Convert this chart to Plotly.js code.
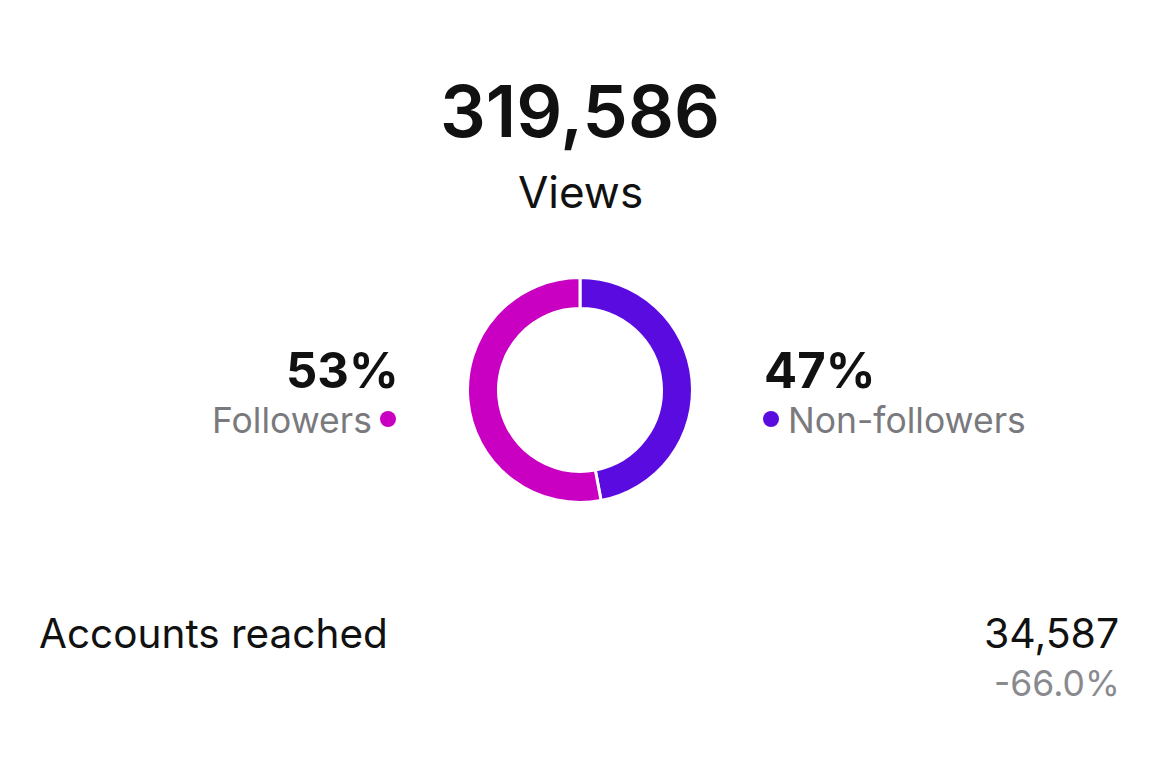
<!DOCTYPE html>
<html>
<head>
<meta charset="utf-8">
<script src="https://cdn.plot.ly/plotly-3.0.1.min.js"></script>
<style>html,body{margin:0;padding:0;background:#fff;}#chart{width:1159px;height:772px;}</style>
</head>
<body>
<div id="chart"></div>
<script>
// ---- data ----
const segmentLabels = ["Non-followers", "Followers"];
const segmentValues = [47, 53];
const segmentColors = ["#5a0be0", "#c900c2"];
const totalViews = "319,586";
const totalLabel = "Views";
const metricLabel = "Accounts reached";
const metricValue = "34,587";
const metricChange = "-66.0%";

const W = 1159, H = 772;
const px = x => x / W;
const py = y => 1 - y / H;
const FONT = "Inter, 'Noto Sans', Roboto, sans-serif";

const cx = 580, cy = 390, R = 112.5;

const trace = {
  type: "pie",
  labels: segmentLabels,
  values: segmentValues,
  sort: false,
  direction: "clockwise",
  rotation: 0,
  hole: 81.5 / 112.5,
  textinfo: "none",
  hoverinfo: "label+percent",
  marker: { colors: segmentColors, line: { color: "#ffffff", width: 3 } },
  domain: { x: [px(cx - R), px(cx + R)], y: [py(cy + R), py(cy - R)] },
  showlegend: false
};

const pct = v => Math.round(v / segmentValues.reduce((a, b) => a + b, 0) * 100) + "%";

function ann(text, x, y, size, color, xanchor, weight) {
  return {
    text: text, xref: "paper", yref: "paper", x: px(x), y: py(y),
    xanchor: xanchor, yanchor: "middle", showarrow: false,
    font: { family: FONT, size: size, color: color, weight: weight || 400 }
  };
}

const annotations = [
  ann(totalViews, 580, 110, 72, "#111111", "center", 600),
  ann(totalLabel, 580, 192, 44, "#111111", "center", 400),
  ann(pct(segmentValues[1]), 401, 371, 49, "#111111", "right", 700),
  ann(segmentLabels[1], 374, 420, 35.5, "#7a7a7e", "right", 400),
  ann(pct(segmentValues[0]), 762, 371, 49, "#111111", "left", 700),
  ann(segmentLabels[0], 786, 420, 35.5, "#7a7a7e", "left", 400),
  ann(metricLabel, 37, 633, 40.5, "#111111", "left", 400),
  ann(metricValue, 1121, 633, 41, "#111111", "right", 400),
  ann(metricChange, 1122, 683, 35.5, "#8a8a8e", "right", 400)
];

function dot(x, y, color) {
  return {
    type: "circle", xref: "paper", yref: "paper",
    xsizemode: "pixel", ysizemode: "pixel",
    xanchor: px(x), yanchor: py(y),
    x0: -8, x1: 8, y0: -8, y1: 8,
    fillcolor: color, line: { width: 0 }
  };
}

const layout = {
  width: W, height: H,
  margin: { l: 0, r: 0, t: 0, b: 0 },
  paper_bgcolor: "#ffffff",
  plot_bgcolor: "#ffffff",
  annotations: annotations,
  shapes: [dot(388, 419, segmentColors[1]), dot(771, 419, segmentColors[0])]
};

Plotly.newPlot("chart", [trace], layout, { displayModeBar: false, staticPlot: true });
</script>
</body>
</html>
